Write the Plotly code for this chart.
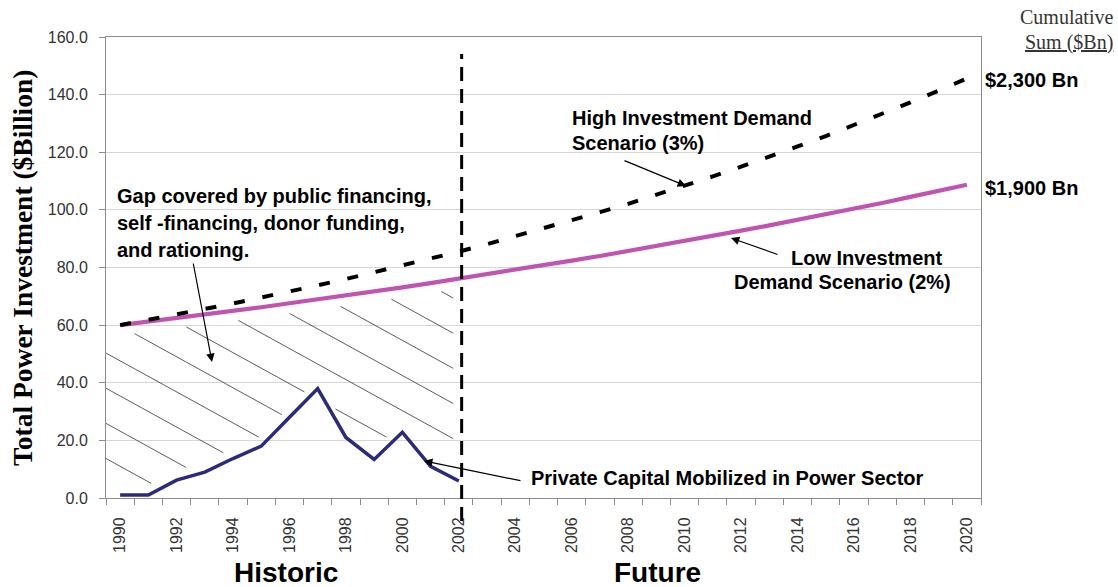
import plotly.graph_objects as go

# ---------------- data ----------------
YEARS = list(range(1990, 2021))
HIST_YEARS = list(range(1990, 2003))

PRIVATE_CAPITAL = [1.0, 1.0, 6.2, 9.0, 13.7, 18.0, 28.0, 38.0, 21.0, 13.4, 22.8, 11.0, 5.9]

HIGH_SCENARIO = [60.0, 61.8, 63.7, 65.6, 67.5, 69.6, 71.6, 73.8, 76.0, 78.3, 80.6,
                 83.0, 85.5, 88.1, 90.8, 93.5, 96.3, 99.2, 102.1, 105.2, 108.4,
                 111.6, 115.0, 118.4, 122.0, 125.6, 129.4, 133.3, 137.3, 141.4, 145.6]

LOW_SCENARIO = [60.0, 61.2, 62.4, 63.7, 64.9, 66.2, 67.6, 68.9, 70.3, 71.7, 73.1,
                74.6, 76.1, 77.6, 79.2, 80.8, 82.4, 84.0, 85.7, 87.4, 89.2,
                91.0, 92.8, 94.6, 96.5, 98.5, 100.4, 102.4, 104.5, 106.6, 108.7]

TICK_YEARS = [y for y in YEARS if y % 2 == 0]
TICK_LABELS = [str(y) for y in TICK_YEARS]
Y_TICKS = [0, 20, 40, 60, 80, 100, 120, 140, 160]

DIVIDER_YEAR = 2002.1
CUM_HIGH = "$2,300 Bn"
CUM_LOW = "$1,900 Bn"

# ---------------- layout geometry ----------------
W, H = 1118, 587
L, R, T, B = 106, 981, 37, 498
X_RANGE = [1989.5, 2020.5]
Y_RANGE = [0, 160]


def pxx(x):
    return (x - L) / (R - L)


def pyy(y):
    return (B - y) / (B - T)


def interp(xs, ys, x):
    if x <= xs[0]:
        return ys[0]
    if x >= xs[-1]:
        return ys[-1]
    for i in range(len(xs) - 1):
        if xs[i] <= x <= xs[i + 1]:
            t = (x - xs[i]) / (xs[i + 1] - xs[i])
            return ys[i] + t * (ys[i + 1] - ys[i])
    return ys[-1]


# ---------------- hatch (gap region between low scenario and private capital) --------
HATCH_SLOPE = 5.39      # value units per year (down to the right)
HATCH_STEP = 12.2       # vertical spacing in value units
HATCH_MARGIN = 3.5
hx0, hx1 = 1989.5, 2001.8
low_hist = LOW_SCENARIO[:len(HIST_YEARS)]
hatch_x, hatch_y = [], []
c = 13.7
while c < 150:
    run = []
    n = 1230
    for k in range(n + 1):
        x = hx0 + (hx1 - hx0) * k / n
        yv = c - HATCH_SLOPE * (x - hx0)
        lo = interp(HIST_YEARS, PRIVATE_CAPITAL, x) + HATCH_MARGIN
        hi = interp(HIST_YEARS, low_hist, x) - HATCH_MARGIN
        if lo < yv < hi:
            run.append((x, yv))
        else:
            if len(run) > 1:
                hatch_x += [run[0][0], run[-1][0], None]
                hatch_y += [run[0][1], run[-1][1], None]
            run = []
    if len(run) > 1:
        hatch_x += [run[0][0], run[-1][0], None]
        hatch_y += [run[0][1], run[-1][1], None]
    c += HATCH_STEP

fig = go.Figure()

fig.add_trace(go.Scatter(x=hatch_x, y=hatch_y, mode="lines",
                         line=dict(color="#4a4a4a", width=0.9),
                         hoverinfo="skip", showlegend=False))

fig.add_trace(go.Scatter(x=HIST_YEARS, y=PRIVATE_CAPITAL, mode="lines",
                         line=dict(color="#2B2B7B", width=3.5),
                         name="Private Capital", showlegend=False))

fig.add_trace(go.Scatter(x=YEARS, y=LOW_SCENARIO, mode="lines",
                         line=dict(color="#C055B1", width=4.2),
                         name="Low", showlegend=False))

fig.add_trace(go.Scatter(x=YEARS, y=HIGH_SCENARIO, mode="lines",
                         line=dict(color="black", width=4, dash="11px,18px"),
                         name="High", showlegend=False))

# divider between historic and future
fig.add_shape(type="line", xref="x", yref="paper",
              x0=DIVIDER_YEAR, x1=DIVIDER_YEAR, y0=pyy(521), y1=pyy(54),
              line=dict(color="black", width=3, dash="14px,8px"), layer="above")

AX_COL = "#8c8c8c"
TICK_FONT = dict(family="Liberation Sans, Arial, sans-serif", size=16, color="#333333")

fig.update_xaxes(range=X_RANGE, tickmode="array", tickvals=TICK_YEARS, ticktext=TICK_LABELS,
                 tickangle=-90, ticks="", showgrid=False, zeroline=False,
                 showline=True, linecolor=AX_COL, linewidth=1, mirror=True,
                 tickfont=TICK_FONT, ticklabelstandoff=12,
                 minor=dict(tick0=1989.5, dtick=1, ticks="outside", ticklen=6,
                            tickcolor=AX_COL, showgrid=False))

fig.update_yaxes(range=Y_RANGE, tickmode="array", tickvals=Y_TICKS,
                 ticktext=[f"{v:.1f}" for v in Y_TICKS],
                 ticks="outside", ticklen=6, tickcolor=AX_COL,
                 showgrid=True, gridcolor="#d6d6d6", gridwidth=1, zeroline=False,
                 showline=True, linecolor=AX_COL, linewidth=1, mirror=True,
                 tickfont=TICK_FONT, ticklabelstandoff=8)

SANS_B = "Liberation Sans, Arial, sans-serif"
ann = []


def text(s, x, y, size=20, xanchor="left", family=SANS_B, color="black", bold=True, angle=0):
    ann.append(dict(text=(f"<b>{s}</b>" if bold else s), xref="paper", yref="paper",
                    x=pxx(x), y=pyy(y), xanchor=xanchor, yanchor="middle",
                    showarrow=False, textangle=angle,
                    font=dict(family=family, size=size, color=color)))


def arrow(hx, hy, tx, ty):
    ann.append(dict(text="", xref="paper", yref="paper", x=pxx(hx), y=pyy(hy),
                    axref="pixel", ayref="pixel", ax=tx - hx, ay=ty - hy,
                    showarrow=True, arrowhead=2, arrowsize=1.4, arrowwidth=1.2,
                    arrowcolor="black", standoff=0))


text("Gap covered by public financing,", 115, 196)
text("self -financing, donor funding,", 115, 223)
text("and rationing.", 115, 250)
arrow(212, 362, 193, 262)

text("High Investment Demand", 570, 118)
text("Scenario (3%)", 570, 143)
arrow(686, 186, 623, 160)

text("Low Investment", 789, 258)
text("Demand Scenario (2%)", 732, 282)
arrow(731, 238, 779, 255)

text("Private Capital Mobilized in Power Sector", 529, 478)
arrow(424, 461, 522, 481)

text(CUM_HIGH, 983, 80)
text(CUM_LOW, 983, 188)

SERIF = "Liberation Serif, Times New Roman, serif"
text("Cumulative", 1115, 17, size=20, xanchor="right", family=SERIF, color="#333333", bold=False)
text("<u>Sum ($Bn)</u>", 1115, 42, size=20, xanchor="right", family=SERIF, color="#333333", bold=False)

text("Historic", 286, 572, size=28, xanchor="center")
text("Future", 657, 572, size=28, xanchor="center")

text("Total Power Investment ($Billion)", 22, 268, size=27.5, xanchor="center",
     family=SERIF, angle=-90)

fig.update_layout(width=W, height=H, autosize=False,
                  margin=dict(l=L, r=W - R, t=T, b=H - B, pad=0),
                  plot_bgcolor="white", paper_bgcolor="white",
                  showlegend=False, annotations=ann)

fig.write_html("out.html", config={"displayModeBar": False},
               post_script="document.body.style.margin='0';document.body.style.overflow='hidden';")
